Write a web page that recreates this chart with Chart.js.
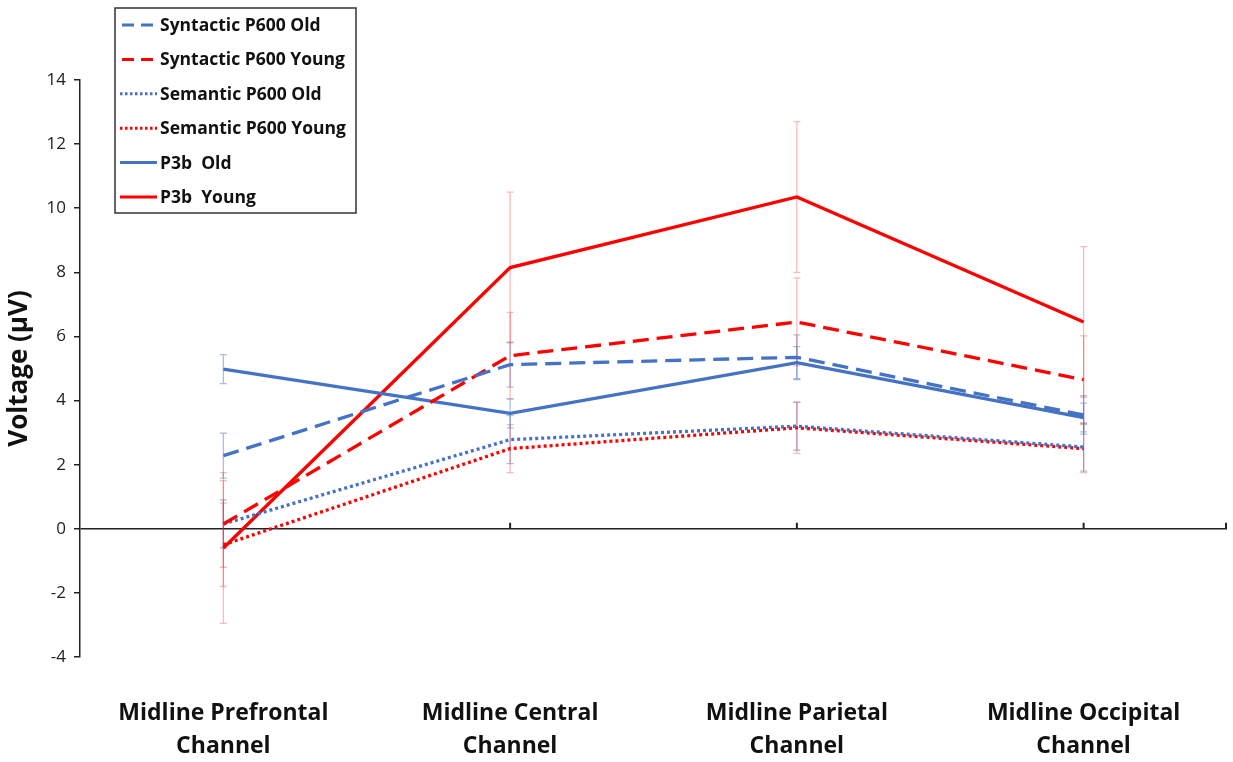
<!DOCTYPE html>
<html>
<head>
<meta charset="utf-8">
<script src="https://cdn.jsdelivr.net/npm/chart.js@4/dist/chart.umd.min.js"></script>
<style>
  html, body { margin: 0; padding: 0; background: #fff; }
  #wrap { width: 1233px; height: 762px; position: relative; }
</style>
</head>
<body>
<div id="wrap"><canvas id="erpChart"></canvas></div>
<script>
// categories and series
const channels = [
  ["Midline Prefrontal", "Channel"],
  ["Midline Central", "Channel"],
  ["Midline Parietal", "Channel"],
  ["Midline Occipital", "Channel"],
];
const yTicks = [-4, -2, 0, 2, 4, 6, 8, 10, 12, 14];

const syntacticOld = [2.28, 5.12, 5.35, 3.55];
const syntacticYoung = [0.15, 5.4, 6.45, 4.65];
const semanticOld = [0.15, 2.78, 3.2, 2.55];
const semanticYoung = [-0.5, 2.5, 3.15, 2.5];
const p3bOld = [4.98, 3.6, 5.18, 3.47];
const p3bYoung = [-0.6, 8.15, 10.35, 6.45];

// +/- error bar half-lengths
const syntacticOldErr = [0.7, 0.7, 0.7, 0.6];
const syntacticYoungErr = [1.35, 1.35, 1.37, 1.37];
const semanticOldErr = [0.75, 0.75, 0.75, 0.75];
const semanticYoungErr = [1.3, 0.75, 0.8, 0.75];
const p3bOldErr = [0.45, 0.45, 0.5, 0.45];
const p3bYoungErr = [2.35, 2.35, 2.35, 2.35];

const BLUE = "#4472C4";
const RED = "#FF0000";
const FONT = "'Open Sans', 'Liberation Sans', sans-serif";

function series(label, data, err, color, dash) {
  return {
    label, data, err,
    borderColor: color,
    backgroundColor: color,
    borderWidth: 3.3,
    borderDash: dash,
    pointRadius: 0,
    tension: 0,
    fill: false,
  };
}

const datasets = [
  series("Syntactic P600 Old", syntacticOld, syntacticOldErr, BLUE, [16, 8]),
  series("Syntactic P600 Young", syntacticYoung, syntacticYoungErr, RED, [16, 8]),
  series("Semantic P600 Old", semanticOld, semanticOldErr, BLUE, [3, 3]),
  series("Semantic P600 Young", semanticYoung, semanticYoungErr, RED, [3, 3]),
  series("P3b  Old", p3bOld, p3bOldErr, BLUE, []),
  series("P3b  Young", p3bYoung, p3bYoungErr, RED, []),
];

// error bars, drawn under the lines
const errorBars = {
  id: "errorBars",
  beforeDatasetsDraw(chart) {
    const { ctx, scales: { x, y } } = chart;
    ctx.save();
    ctx.lineWidth = 1.3;
    chart.data.datasets.forEach((ds) => {
      ctx.strokeStyle = ds.borderColor === RED ? "rgba(255,0,0,0.28)" : "rgba(68,114,196,0.45)";
      ds.data.forEach((v, i) => {
        const px = x.getPixelForValue(i);
        const top = y.getPixelForValue(v + ds.err[i]);
        const bot = y.getPixelForValue(v - ds.err[i]);
        ctx.beginPath();
        ctx.moveTo(px, top); ctx.lineTo(px, bot);
        ctx.moveTo(px - 3.5, top); ctx.lineTo(px + 3.5, top);
        ctx.moveTo(px - 3.5, bot); ctx.lineTo(px + 3.5, bot);
        ctx.stroke();
      });
    });
    ctx.restore();
  },
};

// small upward tick marks on the zero line
const zeroTicks = {
  id: "zeroTicks",
  afterDraw(chart) {
    const { ctx, chartArea, scales: { x, y } } = chart;
    const y0 = y.getPixelForValue(0);
    ctx.save();
    ctx.strokeStyle = "#222";
    ctx.lineWidth = 2;
    const xs = [1, 2, 3].map((i) => x.getPixelForValue(i));
    xs.push(chartArea.right - 1);
    xs.forEach((px) => {
      ctx.beginPath();
      ctx.moveTo(px, y0);
      ctx.lineTo(px, y0 - 6);
      ctx.stroke();
    });
    ctx.restore();
  },
};

// boxed legend sitting over the top-left of the plot
const boxLegend = {
  id: "boxLegend",
  afterDraw(chart) {
    const { ctx } = chart;
    const left = 115, top = 8, w = 241, h = 205, rowH = 34.4;
    ctx.save();
    ctx.fillStyle = "#fff";
    ctx.fillRect(left, top, w, h);
    ctx.strokeStyle = "#333";
    ctx.lineWidth = 1.5;
    ctx.strokeRect(left, top, w, h);
    ctx.font = "bold 17.5px " + FONT;
    ctx.textBaseline = "middle";
    chart.data.datasets.forEach((ds, i) => {
      const cy = top + 17 + i * rowH;
      const dashed = ds.borderDash.length && ds.borderDash[0] > 5;
      ctx.strokeStyle = ds.borderColor;
      ctx.lineWidth = 3;
      ctx.setLineDash(ds.borderDash.length ? (dashed ? [12, 7] : [2.5, 2.5]) : []);
      ctx.beginPath();
      ctx.moveTo(dashed ? 122 : 120, cy);
      ctx.lineTo(157, cy);
      ctx.stroke();
      ctx.setLineDash([]);
      ctx.fillStyle = "#111";
      ctx.fillText(ds.label, 160, cy + 1);
    });
    ctx.restore();
  },
};

new Chart(document.getElementById("erpChart").getContext("2d"), {
  type: "line",
  data: { labels: channels, datasets },
  plugins: [errorBars, zeroTicks, boxLegend],
  options: {
    responsive: true,
    maintainAspectRatio: false,
    animation: false,
    layout: { padding: { top: 80, right: 6, left: 0, bottom: 0 } },
    plugins: { legend: { display: false }, tooltip: { enabled: false } },
    scales: {
      x: {
        offset: true,
        border: { display: false },
        grid: { display: false },
        ticks: {
          color: "#111",
          padding: 32,
          maxRotation: 0,
          font: { family: FONT, size: 23, weight: "bold", lineHeight: 1.43 },
        },
        afterFit(scale) { scale.height = 105; },
      },
      y: {
        min: -4,
        max: 14,
        afterBuildTicks(scale) { scale.ticks = yTicks.map((v) => ({ value: v })); },
        border: { display: true, color: "#222", width: 1.5 },
        grid: {
          drawTicks: true,
          tickLength: 6,
          tickColor: "#222",
          lineWidth: 1.5,
          color: (c) => (c.tick && c.tick.value === 0 ? "#222" : "rgba(0,0,0,0)"),
        },
        ticks: {
          color: "#222",
          padding: 8,
          font: { family: FONT, size: 17 },
        },
        title: {
          display: true,
          text: "Voltage (µV)",
          color: "#111",
          padding: { top: 4, bottom: 0 },
          font: { family: FONT, size: 26, weight: "bold" },
        },
        afterFit(scale) { scale.width = 80; },
      },
    },
  },
});
</script>
</body>
</html>
